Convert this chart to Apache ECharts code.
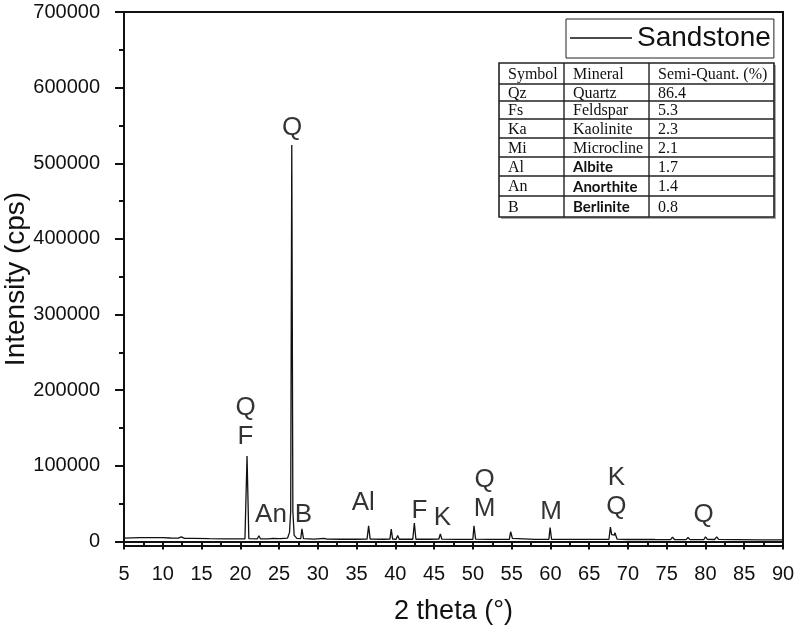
<!DOCTYPE html>
<html>
<head>
<meta charset="utf-8">
<script src="https://cdn.jsdelivr.net/npm/echarts@6/dist/echarts.min.js"></script>
<style>html,body{margin:0;padding:0;background:#fff;}#c{width:796px;height:631px;}</style>
</head>
<body>
<div id="c"></div>
<script>
// ---------- DATA ----------
const seriesName = 'Sandstone';
const twoTheta = [
  5.0, 6.0, 7.0, 8.0, 9.0, 10.0, 11.0, 12.0, 12.4, 12.8, 14.0, 16.0, 18.0, 20.0,
  20.6, 20.87, 21.1, 22.2, 22.4, 22.6, 23.6, 24.2, 24.9, 25.0, 25.2, 26.1, 26.35, 26.5,
  26.64, 26.78, 26.95, 27.3, 27.8, 27.95, 28.15, 29.5, 30.8, 31.2, 33.0, 35.0,
  36.35, 36.55, 36.75, 38.5, 39.3, 39.47, 39.65, 40.1, 40.3, 40.5, 42.25, 42.45, 42.65,
  44.5, 45.6, 45.8, 46.0, 48.0, 50.0, 50.14, 50.35, 52.0, 54.7, 54.87, 55.1, 55.3,
  58.0, 59.8, 59.96, 60.15, 62.0, 64.0, 64.1, 64.3, 65.8, 66.0, 66.2, 67.55, 67.74, 67.9,
  68.14, 68.25, 68.32, 68.6, 70.0, 73.3, 73.5, 73.7, 75.5, 75.75, 76.0, 77.5, 77.75,
  78.0, 79.8, 80.0, 80.25, 81.2, 81.45, 81.7, 83.7, 83.9, 84.1, 87.0, 90.0
];
const intensity = [
  4500, 4800, 5000, 5200, 5200, 5000, 4600, 4300, 6000, 4200, 4000, 3700, 3500, 3400,
  3600, 113000, 3800, 3500, 7500, 3600, 3500, 4000, 3700, 5000, 3700, 4500, 12000, 40000,
  524000, 40000, 8000, 4000, 3800, 16800, 3800, 3000, 4000, 3000, 2900, 2900,
  3000, 20700, 3000, 2900, 3000, 16400, 3000, 2900, 8000, 2900, 2900, 24300, 2900,
  2900, 3000, 10000, 3000, 2800, 2900, 20700, 3000, 2800, 2800, 12800, 4000, 2800,
  2700, 2800, 18500, 2900, 2700, 2700, 4000, 2700, 2700, 3500, 2700, 2900, 19000, 9000,
  11000, 8500, 11500, 3000, 2600, 2600, 3800, 2500, 2500, 5800, 2600, 2500, 5300,
  2500, 2600, 6200, 2800, 2600, 6200, 2700, 2300, 3500, 2300, 2200, 2000
];
const peakLabelTheta = [20.67, 26.67, 23.96, 28.15, 35.87, 43.1, 46.06, 51.5, 60.1, 68.5, 79.77];
const peakLabelIntensity = [157000, 547000, 35300, 35300, 51100, 41000, 31300, 62300, 39600, 64700, 35300];
const peakLabelText = ['Q\nF', 'Q', 'An', 'B', 'Al', 'F', 'K', 'Q\nM', 'M', 'K\nQ', 'Q'];
const yTickLabels = [0, 100000, 200000, 300000, 400000, 500000, 600000, 700000];
const yMinorTicks = [50000, 150000, 250000, 350000, 450000, 550000, 650000];
const tableHeader = ['Symbol', 'Mineral', 'Semi-Quant. (%)'];
const tableSymbols = ['Qz', 'Fs', 'Ka', 'Mi', 'Al', 'An', 'B'];
const tableMinerals = ['Quartz', 'Feldspar', 'Kaolinite', 'Microcline', 'Albite', 'Anorthite', 'Berlinite'];
const tablePercent = ['86.4', '5.3', '2.3', '2.1', '1.7', '1.4', '0.8'];

// ---------- LAYOUT / STYLE ----------
const SANS = '"Liberation Sans", Arial, sans-serif';
const SERIF = '"Liberation Serif", "Times New Roman", serif';
const colEdges = [499, 564, 649, 774];
const rowEdges = [63, 84, 101, 119, 138, 157, 176, 196, 217];
const sansMineralRows = [4, 5, 6];

const lineData = twoTheta.map((t, i) => [t, intensity[i]]);
const labelData = peakLabelTheta.map((t, i) => [t, peakLabelIntensity[i]]);

const graphics = [];
graphics.push({type: 'rect', shape: {x: colEdges[0] + 2, y: rowEdges[0] + 2, width: colEdges[3] - colEdges[0], height: rowEdges[8] - rowEdges[0]}, style: {fill: '#aaa'}, z: 10});
graphics.push({type: 'rect', shape: {x: colEdges[0], y: rowEdges[0], width: colEdges[3] - colEdges[0], height: rowEdges[8] - rowEdges[0]}, style: {fill: '#fff', stroke: '#222', lineWidth: 1.6}, z: 11});
for (let r = 1; r < rowEdges.length - 1; r++) {
  graphics.push({type: 'line', shape: {x1: colEdges[0], y1: rowEdges[r], x2: colEdges[3], y2: rowEdges[r]}, style: {stroke: '#222', lineWidth: 1.4}, z: 12});
}
for (let c = 1; c < colEdges.length - 1; c++) {
  graphics.push({type: 'line', shape: {x1: colEdges[c], y1: rowEdges[0], x2: colEdges[c], y2: rowEdges[8]}, style: {stroke: '#222', lineWidth: 1.4}, z: 12});
}
const rows = [tableHeader].concat(tableSymbols.map((s, i) => [s, tableMinerals[i], tablePercent[i]]));
rows.forEach((row, r) => {
  const cy = (rowEdges[r] + rowEdges[r + 1]) / 2;
  row.forEach((txt, c) => {
    const useSans = (r >= 1 && c === 1 && sansMineralRows.indexOf(r - 1) >= 0);
    graphics.push({
      type: 'text', x: colEdges[c] + 9, y: cy + 1, z: 13,
      style: {
        text: txt, fill: '#111', verticalAlign: 'middle', align: 'left',
        fontSize: useSans ? 15 : 16,
        fontFamily: useSans ? 'Lato, "Open Sans", sans-serif' : SERIF,
        fontWeight: useSans ? 'bold' : 'normal'
      }
    });
  });
});

const chart = echarts.init(document.getElementById('c'), null, {renderer: 'canvas'});
chart.setOption({
  animation: false,
  backgroundColor: '#fff',
  grid: {left: 124, right: 13, top: 12, bottom: 85, show: true, borderColor: '#111', borderWidth: 2, outerBoundsMode: 'none', containLabel: false},
  legend: {
    data: [{name: seriesName, icon: 'rect'}], left: 566, top: 19, orient: 'horizontal',
    padding: [5, 3, 6, 4], itemWidth: 62, itemHeight: 1.4,
    borderColor: '#222', borderWidth: 1, borderRadius: 0, backgroundColor: '#fff',
    itemStyle: {color: '#111', borderWidth: 0},
    textStyle: {fontSize: 28, color: '#111', fontFamily: SANS}
  },
  xAxis: {
    type: 'value', min: 5, max: 90, interval: 5,
    name: '2 theta (°)', nameLocation: 'middle', nameGap: 52,
    nameTextStyle: {fontSize: 27, color: '#111', fontFamily: SANS},
    axisLine: {show: true, lineStyle: {color: '#111', width: 2}},
    axisTick: {show: true, inside: false, length: 8, lineStyle: {color: '#111', width: 2}},
    minorTick: {show: true, splitNumber: 2, length: 4, lineStyle: {color: '#111', width: 2}},
    axisLabel: {fontSize: 20, color: '#111', fontFamily: SANS, margin: 18, showMinLabel: true, showMaxLabel: true},
    splitLine: {show: false}, minorSplitLine: {show: false}
  },
  yAxis: [{
    type: 'value', min: -6000, max: 700000, position: 'left',
    name: 'Intensity (cps)', nameLocation: 'middle', nameGap: 94, nameMoveOverlap: false,
    nameTextStyle: {fontSize: 28, color: '#111', fontFamily: SANS},
    axisLine: {show: true, lineStyle: {color: '#111', width: 2}},
    axisTick: {show: true, length: 9, customValues: yTickLabels, lineStyle: {color: '#111', width: 2}},
    axisLabel: {fontSize: 20, color: '#111', fontFamily: SANS, margin: 24, customValues: yTickLabels, formatter: v => String(v)},
    splitLine: {show: false}
  }, {
    type: 'value', min: -6000, max: 700000, position: 'left',
    axisLine: {show: false},
    axisTick: {show: true, length: 5, customValues: yMinorTicks, lineStyle: {color: '#111', width: 2}},
    axisLabel: {show: false},
    splitLine: {show: false}
  }],
  series: [{
    name: seriesName, type: 'line', data: lineData, showSymbol: false, symbol: 'none',
    lineStyle: {color: '#111', width: 1.3}, itemStyle: {color: '#111'}, z: 3
  }, {
    name: 'peak labels', type: 'scatter', data: labelData, symbolSize: 1, silent: true,
    itemStyle: {color: 'rgba(0,0,0,0)'},
    label: {
      show: true, position: 'inside', color: '#000', fontSize: 26, lineHeight: 29, fontFamily: SANS,
      formatter: p => peakLabelText[p.dataIndex]
    }, z: 4
  }],
  graphic: graphics
});
</script>
</body>
</html>
